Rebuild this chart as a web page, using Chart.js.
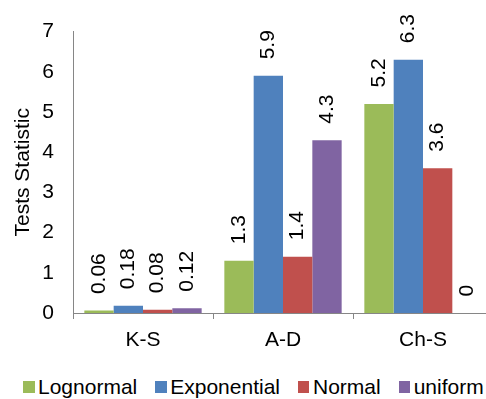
<!DOCTYPE html>
<html>
<head>
<meta charset="utf-8">
<script src="https://cdn.jsdelivr.net/npm/chart.js@4/dist/chart.umd.min.js"></script>
<style>
  html, body { margin: 0; padding: 0; background: #fff; overflow: hidden; width: 486px; height: 399px; }
  #wrap { position: absolute; left: 0; top: 0; width: 505px; height: 370px; }
  #legend { position: absolute; left: 23px; top: 375px; display: flex; align-items: center;
    font: 21px "Liberation Sans", Arial, sans-serif; color: #000; white-space: nowrap; }
  #legend .item { display: flex; align-items: center; margin-right: 18px; }
  #legend .box { width: 11.5px; height: 11.5px; margin-right: 3.5px; }
</style>
</head>
<body>
<div id="wrap"><canvas id="chart" width="505" height="370"></canvas></div>
<div id="legend"></div>
<script>
const categories = ['K-S', 'A-D', 'Ch-S']
const seriesNames = ['Lognormal', 'Exponential', 'Normal', 'uniform']
const lognormal = [0.06, 1.3, 5.2]
const exponential = [0.18, 5.9, 6.3]
const normal = [0.08, 1.4, 3.6]
const uniform = [0.12, 4.3, 0]
const yTicks = [0, 1, 2, 3, 4, 5, 6, 7]
const colors = ['#9BBB59', '#4F81BD', '#C0504D', '#8064A2']

const FONT = '"Liberation Sans", Arial, sans-serif'
const axisGray = '#868686'

// vertical value labels above each bar
const valueLabels = {
  id: 'valueLabels',
  afterDatasetsDraw(chart) {
    const ctx = chart.ctx
    ctx.save()
    ctx.font = '21px ' + FONT
    ctx.fillStyle = '#000'
    ctx.textAlign = 'left'
    ctx.textBaseline = 'middle'
    chart.data.datasets.forEach((ds, i) => {
      chart.getDatasetMeta(i).data.forEach((bar, j) => {
        ctx.save()
        ctx.translate(bar.x, bar.y - 16.5)
        ctx.rotate(-Math.PI / 2)
        ctx.fillText(String(ds.data[j]), 0, 0)
        ctx.restore()
      })
    })
    ctx.restore()
  }
}

const seriesData = [lognormal, exponential, normal, uniform]

const ctx = document.getElementById('chart').getContext('2d')
new Chart(ctx, {
  type: 'bar',
  data: {
    labels: categories,
    datasets: seriesNames.map((name, i) => ({
      label: name,
      data: seriesData[i],
      backgroundColor: colors[i],
      borderWidth: 0,
      categoryPercentage: 0.838,
      barPercentage: 1.0
    }))
  },
  options: {
    responsive: false,
    animation: false,
    devicePixelRatio: 1,
    layout: {
      padding: { top: 27, right: 12, left: 0, bottom: 0 }
    },
    plugins: {
      legend: { display: false },
      tooltip: { enabled: false }
    },
    scales: {
      x: {
        grid: {
          display: true,
          drawOnChartArea: false,
          drawTicks: true,
          tickLength: 6,
          color: axisGray,
          offset: true
        },
        border: { display: true, color: axisGray, width: 1 },
        ticks: {
          color: '#000',
          padding: 9,
          font: { family: FONT, size: 21 }
        },
        afterFit: function (scale) {
          scale.height = 57
        }
      },
      y: {
        min: 0,
        max: 7,
        afterBuildTicks: function (scale) {
          scale.ticks = yTicks.map((v) => ({ value: v }))
        },
        grid: { display: false, drawTicks: false },
        border: { display: true, color: axisGray, width: 1 },
        ticks: {
          color: '#000',
          padding: 19,
          font: { family: FONT, size: 21 }
        },
        title: {
          display: true,
          text: 'Tests Statistic',
          color: '#000',
          font: { family: FONT, size: 21 },
          padding: { top: 11, bottom: 0 }
        },
        afterFit: function (scale) {
          scale.width = 73
        }
      }
    }
  },
  plugins: [valueLabels]
})

// legend below the chart
const legend = document.getElementById('legend')
seriesNames.forEach((name, i) => {
  const item = document.createElement('div')
  item.className = 'item'
  const box = document.createElement('span')
  box.className = 'box'
  box.style.background = colors[i]
  const label = document.createElement('span')
  label.textContent = name
  item.appendChild(box)
  item.appendChild(label)
  legend.appendChild(item)
})
</script>
</body>
</html>
